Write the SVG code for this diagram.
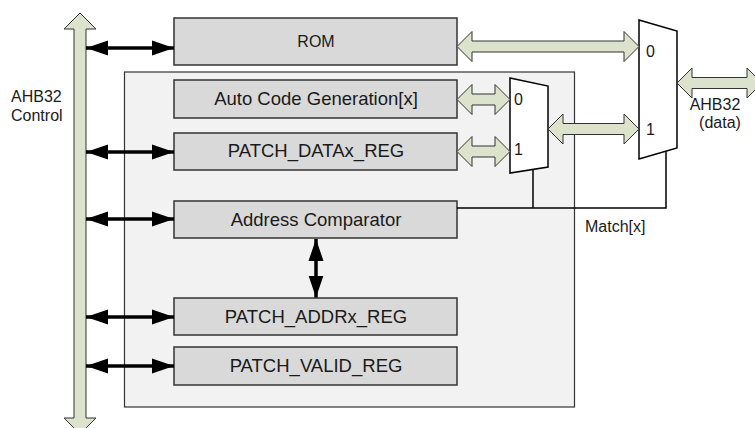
<svg xmlns="http://www.w3.org/2000/svg" width="755" height="428" viewBox="0 0 755 428">
<defs>
<marker id="ah" markerUnits="userSpaceOnUse" markerWidth="22" markerHeight="16" refX="22" refY="7.5" orient="auto-start-reverse" viewBox="0 0 22 15">
<polygon points="0,0 22,7.5 0,15" fill="#000"/>
</marker>
</defs>
<style>
.box{fill:#d9d9d9;stroke:#333;stroke-width:1.5}
.cont{fill:#f2f2f2;stroke:#333;stroke-width:1.2}
.mux{fill:#fff;stroke:#000;stroke-width:1.5}
.hb{fill:#dde2cc;stroke:#333;stroke-width:1}
.ba{stroke:#000;stroke-width:3.5;fill:none;marker-start:url(#ah);marker-end:url(#ah)}
.wire{stroke:#000;stroke-width:1.5;fill:none}
.t{font-family:"Liberation Sans",Arial,sans-serif;fill:#1a1a1a}
.bt{font-size:18.5px;text-anchor:middle}
.st{font-size:16px}
</style>
<rect id="container" class="cont" x="124.5" y="72" width="450" height="335"/>
<g id="bus">
<polygon class="hb" points="80,13 96,29 86,29 86,418 96,418 80,434 64,418 74,418 74,29 64,29"/>
<text class="t st" x="11" y="102">AHB32</text>
<text class="t st" x="11" y="121">Control</text>
</g>
<g id="rom"><rect class="box" x="174" y="18" width="283" height="47"/><text class="t st" x="316" y="47" text-anchor="middle">ROM</text></g>
<g id="autocode"><rect class="box" x="174" y="80" width="283" height="38"/><text class="t bt" x="316" y="105">Auto Code Generation[x]</text></g>
<g id="patchdata"><rect class="box" x="174" y="133" width="283" height="37"/><text class="t bt" x="316" y="157">PATCH_DATAx_REG</text></g>
<g id="addrcmp"><rect class="box" x="174" y="201" width="283" height="37"/><text class="t bt" x="316" y="225.5">Address Comparator</text></g>
<g id="patchaddr"><rect class="box" x="174" y="298" width="283" height="37"/><text class="t bt" x="316" y="322.5">PATCH_ADDRx_REG</text></g>
<g id="patchvalid"><rect class="box" x="174" y="347" width="283" height="38"/><text class="t bt" x="316" y="372">PATCH_VALID_REG</text></g>
<g id="mux1"><polygon class="mux" points="510,78 548,86 548,167 510,173"/><text class="t st" x="514" y="105">0</text><text class="t st" x="514" y="155">1</text></g>
<g id="mux2"><polygon class="mux" points="639,20 677,31 677,148 639,159"/><text class="t st" x="646" y="57">0</text><text class="t st" x="646" y="135">1</text></g>
<g id="connectors">
<line class="ba" x1="86" y1="48" x2="174" y2="48"/>
<line class="ba" x1="86" y1="152" x2="174" y2="152"/>
<line class="ba" x1="86" y1="219" x2="174" y2="219"/>
<line class="ba" x1="86" y1="317" x2="174" y2="317"/>
<line class="ba" x1="86" y1="366" x2="174" y2="366"/>
<line class="ba" x1="316" y1="239" x2="316" y2="297.5"/>
<polygon class="hb" points="457,46.5 472,31.5 472,41 624,41 624,31.5 639,46.5 624,61.5 624,52 472,52 472,61.5"/>
<polygon class="hb" points="457,99.5 472,84.5 472,94 495,94 495,84.5 510,99.5 495,114.5 495,105 472,105 472,114.5"/>
<polygon class="hb" points="457,151.5 472,136.5 472,146 495,146 495,136.5 510,151.5 495,166.5 495,157 472,157 472,166.5"/>
<polygon class="hb" points="548,129 563,114 563,123.5 624,123.5 624,114 639,129 624,144 624,134.5 563,134.5 563,144"/>
<polygon class="hb" points="677,83 692,68 692,77.5 747,77.5 747,68 762,83 747,98 747,88.5 692,88.5 692,98"/>
<polyline class="wire" points="457,208 666,208 666,151"/>
<line class="wire" x1="533" y1="208" x2="533" y2="169.5"/>
</g>
<text class="t st" x="715" y="110" text-anchor="middle">AHB32</text>
<text class="t st" x="720" y="128" text-anchor="middle">(data)</text>
<text class="t st" x="585" y="232">Match[x]</text>
</svg>
